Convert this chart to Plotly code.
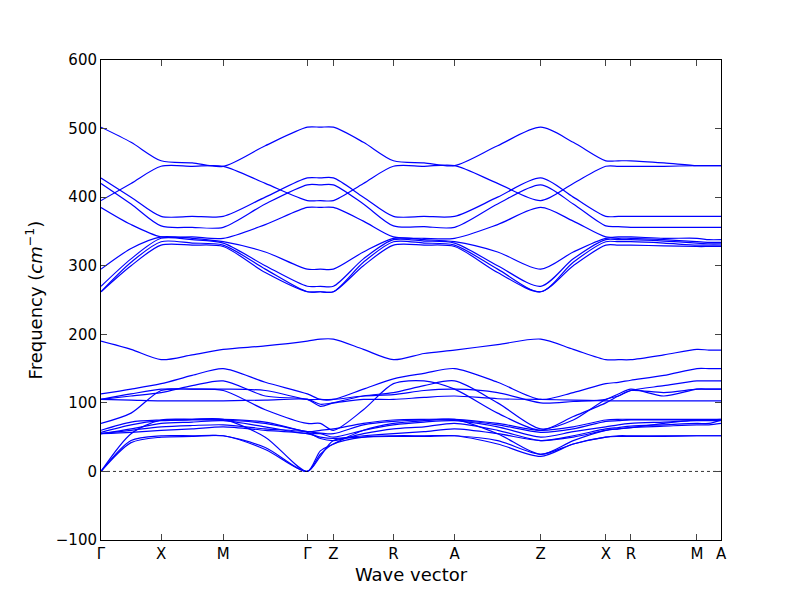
import plotly.graph_objects as go

tick_pos = [0, 60, 122, 206, 232, 292, 353, 439, 504, 529, 595, 619]
tick_labels = ["Γ", "X", "M", "Γ", "Z", "R", "A", "Z", "X", "R", "M", "A"]

bands = [
 [502,480,453,450,445,475,502,502,502,480,453,450,446,475,502,480,453,453,453,450,446,446,446],
 [395,420,445,445,445,420,395,395,395,420,445,445,446,420,395,420,445,445,445,445,446,446,446],
 [428,400,372,372,372,400,428,428,428,400,372,372,372,400,428,400,372,372,372,372,372,372,372],
 [420,390,358,356,356,390,418,418,418,390,358,357,356,390,418,390,358,357,356,356,356,356,356],
 [385,360,342,342,340,360,385,385,385,365,342,340,340,360,385,365,342,342,342,340,340,338,338],
 [295,325,342,340,335,320,295,295,295,320,340,338,335,320,295,320,340,340,340,338,335,334,334],
 [270,310,340,338,333,300,270,270,270,310,338,336,333,300,270,310,338,338,338,336,333,332,332],
 [262,305,335,333,330,295,262,262,262,305,335,333,330,295,262,305,335,335,335,333,330,330,330],
 [262,300,330,330,328,290,262,262,262,300,330,330,328,290,262,300,330,330,330,329,328,328,328],
 [190,178,163,170,178,183,190,193,193,178,163,172,177,185,193,178,163,163,163,170,178,177,177],
 [113,120,128,140,150,130,113,105,105,120,135,143,150,130,105,115,128,130,133,140,150,150,150],
 [105,110,115,125,132,110,105,95,100,110,115,125,132,100,62,75,105,110,118,125,132,132,132],
 [105,113,120,120,120,118,105,105,105,110,112,118,120,115,100,102,105,113,120,110,120,120,120],
 [105,104,103,103,103,104,105,98,100,105,105,108,110,106,105,104,103,103,103,103,103,103,103],
 [70,85,118,120,118,90,70,70,60,90,128,132,120,85,60,80,100,110,118,115,120,120,120],
 [60,72,75,76,76,72,58,60,62,70,75,76,76,70,60,65,75,76,76,76,76,76,76],
 [57,68,74,75,75,70,58,56,55,68,73,75,75,68,57,62,73,74,75,75,75,75,75],
 [55,62,70,72,74,65,55,55,50,60,68,72,74,65,50,58,65,68,70,72,74,74,74],
 [55,60,65,67,68,62,57,48,45,55,62,65,70,60,45,52,62,64,66,68,70,70,75],
 [55,57,60,62,65,60,55,50,48,52,55,58,62,55,45,50,60,62,64,66,68,68,70],
 [0,55,75,76,76,50,0,30,40,60,70,74,76,55,25,45,60,62,64,70,75,75,76],
 [0,45,52,52,52,35,0,25,40,50,52,52,52,45,25,40,50,52,52,52,52,52,52],
 [0,42,50,51,52,32,0,22,45,50,51,51,52,40,22,40,50,51,51,51,52,52,52],
]

xs = []
for i in range(len(tick_pos) - 1):
    xs += [tick_pos[i], (tick_pos[i] + tick_pos[i + 1]) / 2]
xs.append(tick_pos[-1])

fig = go.Figure()
for b in bands:
    fig.add_trace(go.Scatter(x=xs, y=b, mode="lines", line=dict(color="blue", width=1.2, shape="spline", smoothing=0.8),
                             showlegend=False, hoverinfo="skip"))
fig.add_trace(go.Scatter(x=[tick_pos[0], tick_pos[-1]], y=[0, 0], mode="lines",
                         line=dict(color="black", width=0.8, dash="dot"), showlegend=False))

fig.update_layout(
    width=800, height=600, plot_bgcolor="white", paper_bgcolor="white",
    margin=dict(l=93, r=87, t=52, b=68),
    font=dict(family="DejaVu Sans", size=15, color="black"),
    xaxis=dict(range=[tick_pos[0], tick_pos[-1]], tickvals=tick_pos, ticktext=tick_labels,
               showgrid=False, zeroline=False, showline=True, linecolor="black", mirror="ticks",
               ticks="inside", ticklen=6, title=dict(text="Wave vector", standoff=6)),
    yaxis=dict(range=[-100, 600], dtick=100, showgrid=False, zeroline=False, showline=True,
               linecolor="black", mirror="ticks", ticks="inside", ticklen=6,
               title=dict(text="Frequency (<i>cm</i><sup>−1</sup>)", standoff=8)),
)
fig.write_html("out.html")
